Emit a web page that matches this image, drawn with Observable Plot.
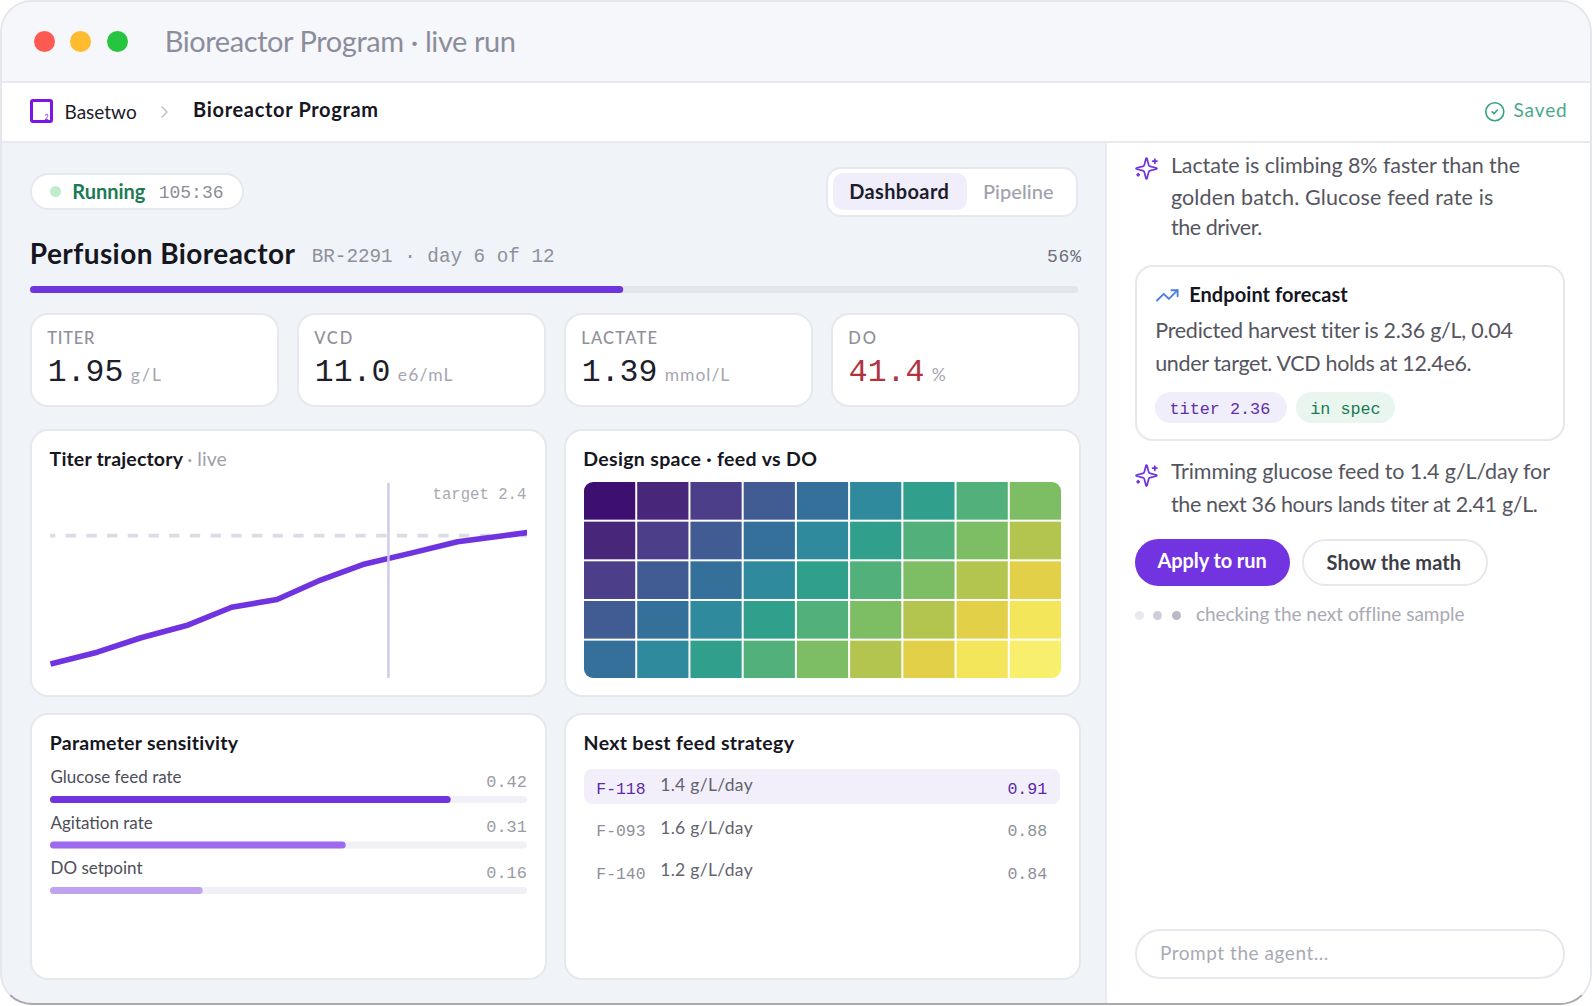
<!DOCTYPE html>
<html><head><meta charset="utf-8">
<script src="https://cdn.jsdelivr.net/npm/d3@7"></script>
<script src="https://cdn.jsdelivr.net/npm/@observablehq/plot@0.6"></script>
<style>
html,body{margin:0;padding:0;background:#fff;width:1592px;height:1006px;overflow:hidden}
#frame{position:absolute;left:0;top:0;width:1592px;height:1005px;box-sizing:border-box;border:2px solid #e6e7ec;border-bottom-color:#a9a9ae;border-radius:32px;overflow:hidden;background:#f0f3f7}
.abs{position:absolute;box-sizing:border-box}
.t{position:absolute;white-space:nowrap;line-height:1;transform:translateY(-50%)}
.card{position:absolute;box-sizing:border-box;background:#fff;border:2px solid #e7e8ee;border-radius:18px}
</style></head><body><div id="frame"><div id="root" style="position:absolute;left:-2px;top:-2px;width:1592px;height:1006px"></div></div>
<script>
// ---------- data ----------
const windowTitle = "Bioreactor Program · live run";
const kpiLabels = ["TITER", "VCD", "LACTATE", "DO"];
const kpiValues = ["1.95", "11.0", "1.39", "41.4"];
const kpiUnits = ["g/L", "e6/mL", "mmol/L", "%"];
const progressPct = 56.6;
const hours = [0, 14.6, 28.3, 42.5, 56.6, 70.8, 84.4, 98.2, 113, 127.2, 141.5, 149];
const titer = [0.085, 0.30, 0.56, 0.78, 1.11, 1.25, 1.60, 1.89, 2.09, 2.29, 2.40, 2.455];
const targetTiter = 2.4;
const nowHour = 105.6;
const heatRows = [
  [0, 1, 2, 3, 4, 5, 6, 7, 8],
  [1, 2, 3, 4, 5, 6, 7, 8, 9],
  [2, 3, 4, 5, 6, 7, 8, 9, 10],
  [3, 4, 5, 6, 7, 8, 9, 10, 11],
  [4, 5, 6, 7, 8, 9, 10, 11, 12]
];
const heatRamp = ["#3d0f70","#48267a","#4d3e8a","#405c93","#35709a","#2f8a9d","#30a08d","#52b17b","#7dbe64","#b3c54f","#e1d048","#f4e65b","#f8ef6d"];
const sensLabels = ["Glucose feed rate", "Agitation rate", "DO setpoint"];
const sensValues = [0.42, 0.31, 0.16];
const sensColors = ["#7033e0", "#9d6bee", "#bfa3f0"];
const strategyIds = ["F-118", "F-093", "F-140"];
const strategyFeeds = ["1.4 g/L/day", "1.6 g/L/day", "1.2 g/L/day"];
const strategyScores = ["0.91", "0.88", "0.84"];

// ---------- layout helpers ----------
const root = document.getElementById("root");
const SANS = "Lato, sans-serif", MONO = "'Liberation Mono', monospace";
function box(x, y, w, h, css = "", cls = "abs") {
  const d = document.createElement("div");
  d.className = cls;
  d.style.cssText = `left:${x}px;top:${y}px;width:${w}px;height:${h}px;${css}`;
  root.appendChild(d);
  return d;
}
function T(text, x1, x2, yc, size, color, weight = 400, font = SANS) {
  const d = document.createElement("div");
  d.className = "t";
  d.textContent = text;
  if (font === SANS && x2 != null) x1 -= 0.8;
  d.style.cssText = `left:${x1}px;top:${yc}px;font:${weight} ${size}px ${font};color:${color}`;
  root.appendChild(d);
  if (x2 != null) {
    const w = d.getBoundingClientRect().width;
    d.style.letterSpacing = ((x2 - x1 - w) / Math.max(1, text.length - 1)) + "px";
  }
  return d;
}
function icon(cx, cy, size, color, sw, inner) {
  const d = document.createElement("div");
  d.className = "abs";
  d.style.cssText = `left:${cx - size / 2}px;top:${cy - size / 2}px;width:${size}px;height:${size}px`;
  d.innerHTML = `<svg xmlns="http://www.w3.org/2000/svg" viewBox="0 0 24 24" width="${size}" height="${size}" fill="none" stroke="${color}" stroke-width="${sw}" stroke-linecap="round" stroke-linejoin="round">${inner}</svg>`;
  root.appendChild(d);
}
function place(svg, x, y, parent = root) {
  svg.style.position = "absolute";
  svg.style.left = x + "px";
  svg.style.top = y + "px";
  svg.style.maxWidth = "none";
  svg.style.background = "transparent";
  parent.appendChild(svg);
  return svg;
}
const SPARK = '<path d="M9.937 15.5A2 2 0 0 0 8.5 14.063l-6.135-1.582a.5.5 0 0 1 0-.962L8.5 9.936A2 2 0 0 0 9.937 8.5l1.582-6.135a.5.5 0 0 1 .963 0L14.063 8.5A2 2 0 0 0 15.5 9.937l6.135 1.581a.5.5 0 0 1 0 .964L15.5 14.063a2 2 0 0 0-1.437 1.437l-1.582 6.135a.5.5 0 0 1-.963 0z"/><path d="M20 3v4M22 5h-4M4 17v2M5 18H3"/>';

// ---------- window chrome ----------
box(0, 0, 1592, 81, "background:#f6f7fa");
box(0, 81, 1592, 2, "background:#e8e9ee");
box(0, 83, 1592, 59, "background:#fff");
box(0, 141, 1592, 2, "background:#e8eaee");
box(1105, 143, 2, 863, "background:#e8eaf3");
box(1107, 143, 485, 863, "background:#fff");
[[44, "#ff5a52"], [80.6, "#febb2e"], [117, "#27c53f"]].forEach(([x, c]) =>
  box(x - 10.5, 30.5, 21, 21, `background:${c};border-radius:50%`));
T(windowTitle, 165.5, 516, 40, 29, "#8c8d9c");

// breadcrumb
box(30, 99.3, 23, 24, "border:3px solid #7c16e6;border-radius:3px;background:#fff");
T("2", 44.5, null, 116.5, 7, "#7c16e6");
T("Basetwo", 65.3, 136.7, 111, 19, "#1d1d2b");
icon(164, 112, 18, "#b7b8c4", 1.5, '<path d="m9 5 7 7-7 7"/>');
T("Bioreactor Program", 193.9, 378, 109, 20, "#16161f", 700);
icon(1494.3, 111.7, 21.6, "#35a67c", 1.8, '<circle cx="12" cy="12" r="10"/><path d="m9 12 2 2 4-4"/>');
T("Saved", 1514.3, 1566.7, 109, 19, "#4aa98a");

// ---------- header of the run ----------
box(29.8, 173.3, 214.2, 37, "background:#fff;border:2px solid #e7e8ee;border-radius:19px");
box(50.1, 185.8, 11, 11, "background:#bfeccb;border-radius:50%");
T("Running", 73, 145.4, 191, 20, "#1c7a55", 700);
T("105:36", 158.7, 223.5, 193, 18, "#8c8d97", 400, MONO);

box(826.3, 167, 252, 50, "background:#fff;border:2px solid #e7e8ee;border-radius:15px");
box(833, 173, 134.2, 37.3, "background:#f0eefa;border-radius:10px");
T("Dashboard", 850, 948.8, 191, 20, "#1d1d2b", 700);
T("Pipeline", 983.7, 1053.7, 191, 20, "#a0a0ad", 500);

T("Perfusion Bioreactor", 30.6, 295, 253, 28, "#16161f", 700);
T("BR-2291 · day 6 of 12", 311.7, 554.6, 257, 19.3, "#8f909c", 400, MONO);
T("56%", 1047, 1081, 257, 18, "#6d6e78", 400, MONO);

place(Plot.plot({
  width: 1048, height: 7, margin: 0,
  x: {domain: [0, 100], axis: null},
  marks: [
    Plot.barX([100], {x1: 0, x2: 100, fill: "#e3e5ea", rx: 3.5}),
    Plot.barX([progressPct], {x1: 0, x2: d => d, fill: "#6f35dd", rx: 3.5})
  ]
}), 30, 285.5);

// ---------- KPI cards ----------
const kpiX = [29.8, 296.5, 563.5, 830.5];
const kpiLabelW = [46.4, 37.2, 75, 27];
const kpiUnitW = [29.4, 54.1, 63.8, 11];
const kpiColors = ["#1d1d2b", "#1d1d2b", "#1d1d2b", "#b1333f"];
kpiLabels.forEach((k, i) => {
  const x = kpiX[i];
  box(x, 313.3, i === 0 ? 249.7 : 249, 93.5, "", "card");
  const tx = Math.round(x) + 18;
  T(k, tx, tx + kpiLabelW[i], 338, 16.5, "#8f909c", 500);
  T(kpiValues[i], tx - 0.2, null, 372, 31.5, kpiColors[i], 400, MONO);
  T(kpiUnits[i], tx + 83.5, tx + 83.5 + kpiUnitW[i], 373.5, 17.5, "#a5a6b1");
});

// ---------- titer trajectory ----------
box(29.8, 429.3, 517.2, 268, "", "card");
T("Titer trajectory", 50.4, 183, 458, 19.5, "#16161f", 700);
T("· live", 188, 226.8, 458, 19.5, "#a0a0ad");
const trajectory = hours.map((h, i) => ({h, v: titer[i]}));
place(Plot.plot({
  width: 476.8, height: 195.3, margin: 0,
  x: {domain: [0, 149], axis: null},
  y: {domain: [-0.18, 3.34], axis: null},
  marks: [
    Plot.ruleY([targetTiter], {stroke: "#dcdce4", strokeWidth: 3.8, strokeDasharray: "10.35 10.35", strokeDashoffset: 5.05}),
    Plot.line(trajectory, {x: "h", y: "v", stroke: "#7033e0", strokeWidth: 5.6, strokeLinecap: "butt", strokeLinejoin: "round"}),
    Plot.ruleX([nowHour], {stroke: "#cdc8ec", strokeWidth: 2.4}),
    Plot.text(["target " + targetTiter.toFixed(1)], {frameAnchor: "top-right", dx: -1, dy: 4, text: d => d, fontFamily: "Liberation Mono", fontSize: 15.65, fill: "#a8a8b0", textAnchor: "end"})
  ]
}), 50.2, 482.7);

// ---------- design space ----------
box(563.5, 429.3, 517, 268, "", "card");
T("Design space · feed vs DO", 584, 817, 458, 19.5, "#16161f", 700);
const heatCells = heatRows.flatMap((row, r) => row.map((v, c) => ({r, c, v})));
const heatClip = box(584, 482, 477, 196, "overflow:hidden;border-radius:9px");
place(Plot.plot({
  width: 479, height: 198.3, margin: 0,
  x: {domain: d3.range(9), axis: null, padding: 0, round: false},
  y: {domain: d3.range(5), axis: null, padding: 0, round: false},
  color: {type: "ordinal", domain: d3.range(heatRamp.length), range: heatRamp},
  marks: [Plot.cell(heatCells, {x: "c", y: "r", fill: "v", inset: 1})]
}), -1, -1, heatClip);

// ---------- parameter sensitivity ----------
box(29.8, 712.8, 517.2, 267.2, "", "card");
T("Parameter sensitivity", 50.5, 238.5, 742, 19.5, "#16161f", 700);
const sens = sensLabels.map((name, i) => ({name, v: sensValues[i], c: sensColors[i]}));
const sensSvg = place(Plot.plot({
  width: 477, height: 140, marginTop: 36, marginBottom: 6, marginLeft: 0, marginRight: 0,
  x: {domain: [0, 0.5], axis: null},
  y: {domain: sensLabels, axis: null, paddingInner: 0.846, paddingOuter: 0, round: false},
  marks: [
    Plot.barX(sens, {y: "name", x1: 0, x2: 0.5, fill: "#f0f0f6", rx: 3.5}),
    Plot.barX(sens, {y: "name", x1: 0, x2: "v", fill: "c", rx: 3.5}),
    Plot.text(sens, {y: "name", x: 0, text: "name", dy: -22, textAnchor: "start", fontFamily: "Lato", fontSize: 17, fill: "#4d4d58", ariaLabel: "sens-name"}),
    Plot.text(sens, {y: "name", x: 0.5, text: d => d.v.toFixed(2), dx: -0.7, dy: -18.8, textAnchor: "end", fontFamily: "Liberation Mono", fontSize: 16.9, fill: "#9a9ba5"})
  ]
}), 49.8, 760);
const sensW = [138.7, 107.2, 94];
d3.select(sensSvg).selectAll('g[aria-label="sens-name"] text').each(function (_, i) {
  this.style.letterSpacing = (sensW[i] - this.getComputedTextLength()) / (this.textContent.length - 1) + "px";
});

// ---------- next best feed strategy ----------
box(563.5, 712.8, 517, 267.2, "", "card");
T("Next best feed strategy", 584.4, 794, 742, 19.5, "#16161f", 700);
box(583.6, 769, 476.4, 35.3, "background:#f2effb;border-radius:8px");
const rowY = [788.8, 830.7, 874];
const feedY = [784, 826.5, 869];
strategyIds.forEach((id, i) => {
  const hi = i === 0;
  T(id, 596.3, null, rowY[i], 16.4, hi ? "#5b2aa8" : "#8e8f99", 400, MONO);
  T(strategyFeeds[i], 661, 752.7, feedY[i], 17.5, "#63636e");
  T(strategyScores[i], 1007.4, null, rowY[i], 16.6, hi ? "#5b2aa8" : "#8e8f99", 400, MONO);
});

// ---------- agent sidebar ----------
const BODY = "#55555f";
icon(1146.3, 168.7, 25, "#7033e0", 1.7, SPARK);
T("Lactate is climbing 8% faster than the", 1171.7, 1520, 165, 21.5, BODY);
T("golden batch. Glucose feed rate is", 1171.7, 1493.3, 196.7, 21.5, BODY);
T("the driver.", 1171.7, 1262.3, 226.7, 21.5, BODY);

box(1135, 265, 430, 175.5, "", "card");
icon(1167, 295.3, 24.7, "#4a7de6", 1.8, '<polyline points="22 7 13.5 15.5 8.5 10.5 2 17"/><polyline points="16 7 22 7 22 13"/>');
T("Endpoint forecast", 1190, 1347.7, 294.3, 20, "#16161f", 700);
T("Predicted harvest titer is 2.36 g/L, 0.04", 1156, 1513.3, 330.2, 21.5, BODY);
T("under target. VCD holds at 12.4e6.", 1156, 1471.7, 363, 21.5, BODY);
box(1155.3, 391.7, 131.4, 31, "background:#f1eefb;border-radius:16px");
T("titer 2.36", 1169.5, null, 408.5, 16.8, "#5d2fa8", 400, MONO);
box(1296, 391.7, 99, 31, "background:#e9f6f0;border-radius:16px");
T("in spec", 1310.2, null, 408.5, 16.8, "#1c7a55", 400, MONO);

icon(1146.3, 475, 25, "#7033e0", 1.7, SPARK);
T("Trimming glucose feed to 1.4 g/L/day for", 1171.7, 1550, 470.7, 21.5, BODY);
T("the next 36 hours lands titer at 2.41 g/L.", 1171.7, 1538.3, 504.3, 21.5, BODY);

box(1135, 539.3, 155.3, 46.7, "background:#7233e1;border-radius:24px");
T("Apply to run", 1158.3, 1266.7, 559.7, 20, "#fff", 700);
box(1302.3, 539.3, 185.5, 46.7, "background:#fff;border:2px solid #e7e8ee;border-radius:24px");
T("Show the math", 1327.3, 1461, 562.3, 20, "#3d3d48", 700);

[[1139.3, "#e8e8ee"], [1157.7, "#cfcfda"], [1176, "#b9b9c9"]].forEach(([x, c]) =>
  box(x - 4.5, 610.8, 9, 9, `background:${c};border-radius:50%`));
T("checking the next offline sample", 1196.7, 1464, 613, 19, "#a9aab4");

box(1135, 928.5, 430, 50.5, "background:#fff;border:2px solid #e7e8ee;border-radius:25px");
T("Prompt the agent...", 1160.7, 1328.3, 952.3, 19, "#a9aab4");
</script></body></html>
